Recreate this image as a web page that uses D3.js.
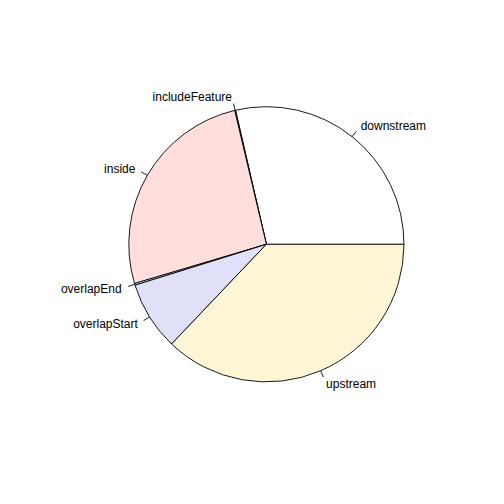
<!DOCTYPE html>
<html><head><meta charset="utf-8">
<script src="https://cdn.jsdelivr.net/npm/d3@7"></script>
<style>body{margin:0;background:#fff}svg{display:block}</style>
</head><body>
<script>
const categories = ["downstream","includeFeature","inside","overlapEnd","overlapStart","upstream"];
const values = [286, 1, 259, 2, 81, 371];
const colors = ["#FFFFFF","#ADD8E6","#FFDEDC","#E0FFFF","#E0E0F8","#FFF6D6"];

const W = 504, H = 504;
const cx = 266.4, cy = 244.3, R = 137.6;
const svg = d3.select("body").append("svg").attr("width", W).attr("height", H);
const g = svg.append("g").attr("transform", `translate(${cx},${cy})`);

const data = categories.map((c, i) => ({c, v: values[i], col: colors[i]}));
const pie = d3.pie().value(d => d.v).sort(null).startAngle(Math.PI/2).endAngle(Math.PI/2 - 2*Math.PI);
const arcs = pie(data);
const arc = d3.arc().innerRadius(0).outerRadius(R);

g.selectAll("path.slice").data(arcs).join("path")
  .attr("class","slice")
  .attr("d", d => arc({startAngle: Math.min(d.startAngle,d.endAngle), endAngle: Math.max(d.startAngle,d.endAngle)}))
  .attr("fill", d => d.data.col)
  .attr("stroke", "#000").attr("stroke-width", 0.9).attr("stroke-linejoin","round");

arcs.forEach(d => {
  const a = (d.startAngle + d.endAngle) / 2;
  const x = Math.sin(a), y = -Math.cos(a);
  g.append("line")
    .attr("x1", x*R).attr("y1", y*R).attr("x2", x*R*1.05).attr("y2", y*R*1.05)
    .attr("stroke","#000").attr("stroke-width",0.9);
  g.append("text")
    .attr("x", x*R*1.1).attr("y", y*R*1.1)
    .attr("dy","0.35em")
    .attr("text-anchor", x > 0 ? "start" : "end")
    .attr("font-family","Liberation Sans, Arial, sans-serif")
    .attr("font-size", 12)
    .attr("fill","#000")
    .text(d.data.c);
});
</script>
</body></html>
